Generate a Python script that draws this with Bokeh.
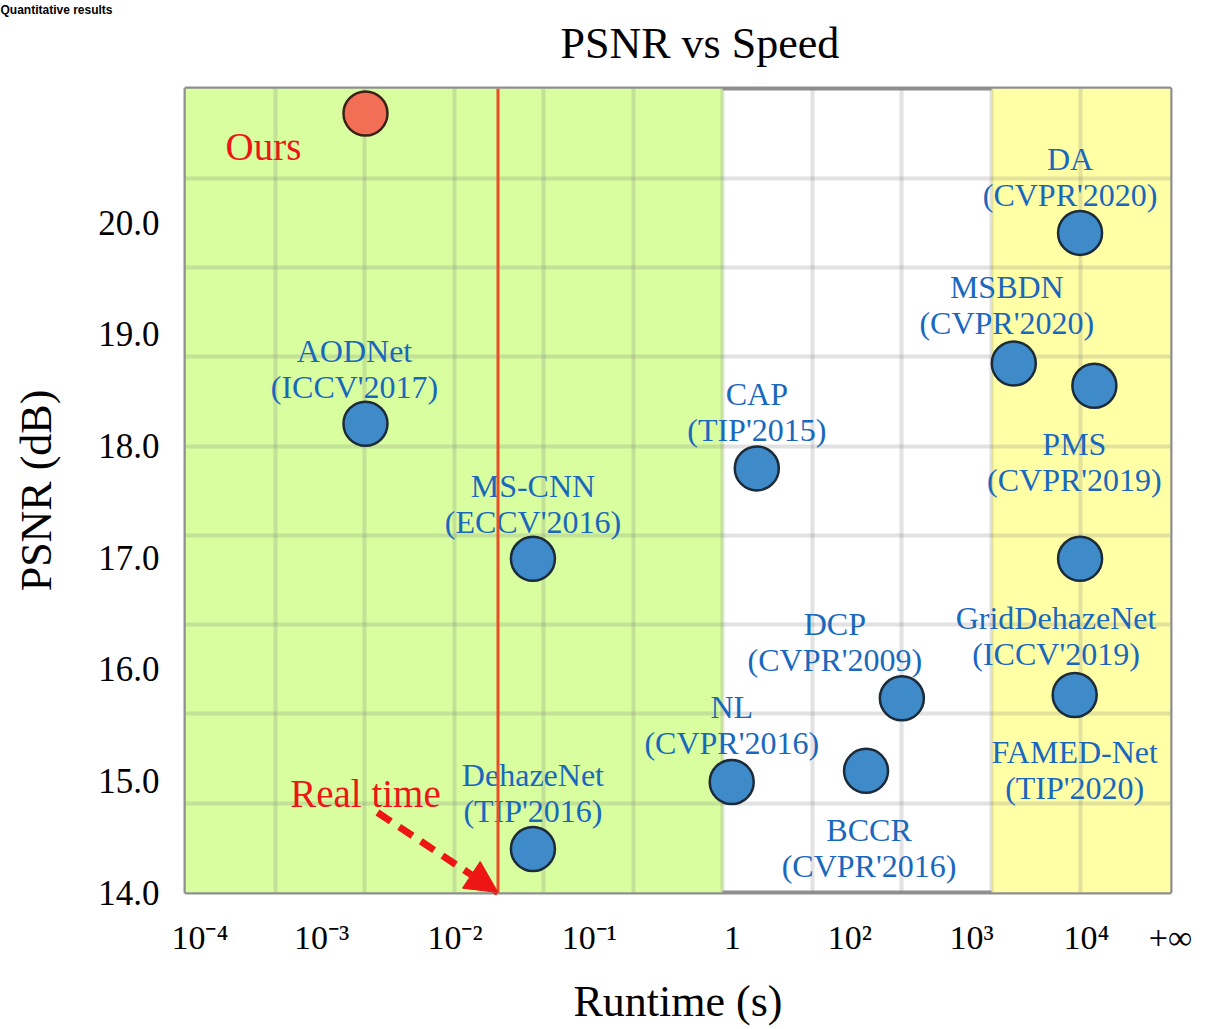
import numpy as np
from bokeh.plotting import figure
from bokeh.models import (ColumnDataSource, Range1d, FixedTicker, PrintfTickFormatter,
                          BoxAnnotation, Span, Arrow, NormalHead, Title)
from bokeh.core.properties import value
from bokeh.embed import file_html
from bokeh.resources import INLINE

# ---- runtime axis (hand-spaced, log-like) and PSNR axis ----
runtime_tick_pos = [0.16, 1.52, 3.01, 4.51, 6.11, 7.42, 8.78, 10.06, 11.0]
runtime_tick_labels = ["10⁻⁴", "10⁻³", "10⁻²", "10⁻¹", "1", "10²", "10³", "10⁴", "+∞"]
psnr_ticks = [14, 15, 16, 17, 18, 19, 20]

# ---- compared methods ----
methods = ["AODNet", "MS-CNN", "DehazeNet", "CAP", "NL", "BCCR", "DCP",
           "MSBDN", "PMS", "DA", "GridDehazeNet", "FAMED-Net"]
venues = ["(ICCV'2017)", "(ECCV'2016)", "(TIP'2016)", "(TIP'2015)", "(CVPR'2016)",
          "(CVPR'2016)", "(CVPR'2009)", "(CVPR'2020)", "(CVPR'2019)", "(CVPR'2020)",
          "(ICCV'2019)", "(TIP'2020)"]
runtime_pos = [2.01, 3.88, 3.88, 6.38, 6.10, 7.60, 8.00, 9.25, 10.15, 9.99, 9.99, 9.93]
psnr = [18.20, 16.99, 14.39, 17.80, 14.99, 15.09, 15.74, 18.74, 18.54, 19.91, 16.99, 15.77]

# ---- our method ----
ours_runtime_pos = 2.01
ours_psnr = 20.98

# real-time limit on the runtime axis
real_time_pos = 3.49

# label placement (pixels relative to each marker)
label_dx = [-11, 0, 0, 0, 0, 3, -67, -7, -20, -10, -24, 0]
label_dy = [-73, -73, -74, -74, -75, 59, -74, -76, 58, -74, 59, 57]

SERIF = "Liberation Serif"
BLUE_TEXT = "#1a68bd"
RED = "#ee1515"

p = figure(width=1207, height=1029, output_backend="svg", toolbar_location=None,
           x_range=Range1d(0, 11), y_range=Range1d(14, 21.204),
           min_border_left=185, min_border_right=37, min_border_top=88,
           min_border_bottom=137)
p.background_fill_color = "white"
p.border_fill_color = "white"
p.outline_line_color = "#8f8f8f"
p.outline_line_width = 4

# runtime regions
p.add_layout(BoxAnnotation(left=0, right=6, fill_color="#d8fe9f", fill_alpha=1,
                           line_alpha=0, level="image"))
p.add_layout(BoxAnnotation(left=9, right=11, fill_color="#ffffa6", fill_alpha=1,
                           line_alpha=0, level="image"))

# grid
p.xgrid.ticker = FixedTicker(ticks=list(range(1, 11)))
p.ygrid.ticker = FixedTicker(ticks=[round(14.8 + 0.8 * k, 2) for k in range(8)])
for g in (p.xgrid, p.ygrid):
    g.grid_line_color = "#7a7a7a"
    g.grid_line_alpha = 0.22
    g.grid_line_width = 4

# axes
xa = p.xaxis[0]
xa.ticker = FixedTicker(ticks=runtime_tick_pos)
xa.major_label_overrides = {pos: lab for pos, lab in zip(runtime_tick_pos, runtime_tick_labels)}
xa.axis_label = "Runtime (s)"
ya = p.yaxis[0]
ya.ticker = FixedTicker(ticks=psnr_ticks)
ya.formatter = PrintfTickFormatter(format="%.1f")
ya.axis_label = "PSNR (dB)"
for ax in (xa, ya):
    ax.axis_line_color = None
    ax.major_tick_line_color = None
    ax.minor_tick_line_color = None
    ax.major_label_text_font = SERIF
    ax.major_label_text_color = "black"
    ax.axis_label_text_font = SERIF
    ax.axis_label_text_font_style = "normal"
    ax.axis_label_text_font_size = "44px"
    ax.axis_label_text_color = "black"
xa.major_label_text_font_size = "34px"
xa.major_label_standoff = 20
xa.axis_label_standoff = 18
ya.major_label_text_font_size = "35px"
ya.major_label_standoff = 20
ya.axis_label_standoff = 34

# titles, stacked outward from the frame: spacer, chart title, slide heading
p.add_layout(Title(text=" ", text_font_size="1px", standoff=18), "above")
p.add_layout(Title(text="PSNR vs Speed", align="left", offset=375,
                   text_font=SERIF, text_font_size="44px", text_font_style="normal",
                   text_color="black", standoff=0), "above")
p.title.text = "Quantitative results"
p.title.align = "left"
p.title.offset = -185
p.title.text_font = "Liberation Sans"
p.title.text_font_style = "bold"
p.title.text_font_size = "12px"
p.title.text_color = "black"
p.title.standoff = 0

# real-time limit
p.add_layout(Span(location=real_time_pos, dimension="height",
                  line_color="#ef4a26", line_width=3))

# methods
src = ColumnDataSource(dict(x=runtime_pos, y=psnr, name=methods, venue=venues,
                            dx=label_dx, dy=label_dy,
                            dy2=[d + 36 for d in label_dy]))
p.scatter("x", "y", source=src, size=44, fill_color="#3f8bc9",
          line_color="#1c2b39", line_width=2.5)
p.text("x", "y", text="name", source=src, x_offset="dx", y_offset="dy",
       text_align="center", text_baseline="alphabetic", text_color=BLUE_TEXT,
       text_font=value(SERIF), text_font_size="32px")
p.text("x", "y", text="venue", source=src, x_offset="dx", y_offset="dy2",
       text_align="center", text_baseline="alphabetic", text_color=BLUE_TEXT,
       text_font=value(SERIF), text_font_size="32px")

# ours
p.scatter([ours_runtime_pos], [ours_psnr], size=44, fill_color="#f26f55",
          line_color="#3a2218", line_width=2.5)
p.text([ours_runtime_pos], [ours_psnr], text=["Ours"], x_offset=-102, y_offset=33,
       text_align="center", text_baseline="alphabetic", text_color=RED,
       text_font=value(SERIF), text_font_size="39px")

# "Real time" callout with dashed arrow down to the limit line
arrow_x0, arrow_y0 = 2.144, 14.717
p.add_layout(Arrow(x_start=arrow_x0, y_start=arrow_y0, x_end=real_time_pos, y_end=14.0,
                   line_color=RED, line_width=7, line_dash="16 10",
                   end=NormalHead(size=32, fill_color=RED, line_color=RED)))
p.text([arrow_x0], [arrow_y0], text=["Real time"], x_offset=-12, y_offset=-19,
       text_align="center", text_baseline="alphabetic", text_color=RED,
       text_font=value(SERIF), text_font_size="39px")

open("out.html", "w").write(file_html(p, INLINE))
